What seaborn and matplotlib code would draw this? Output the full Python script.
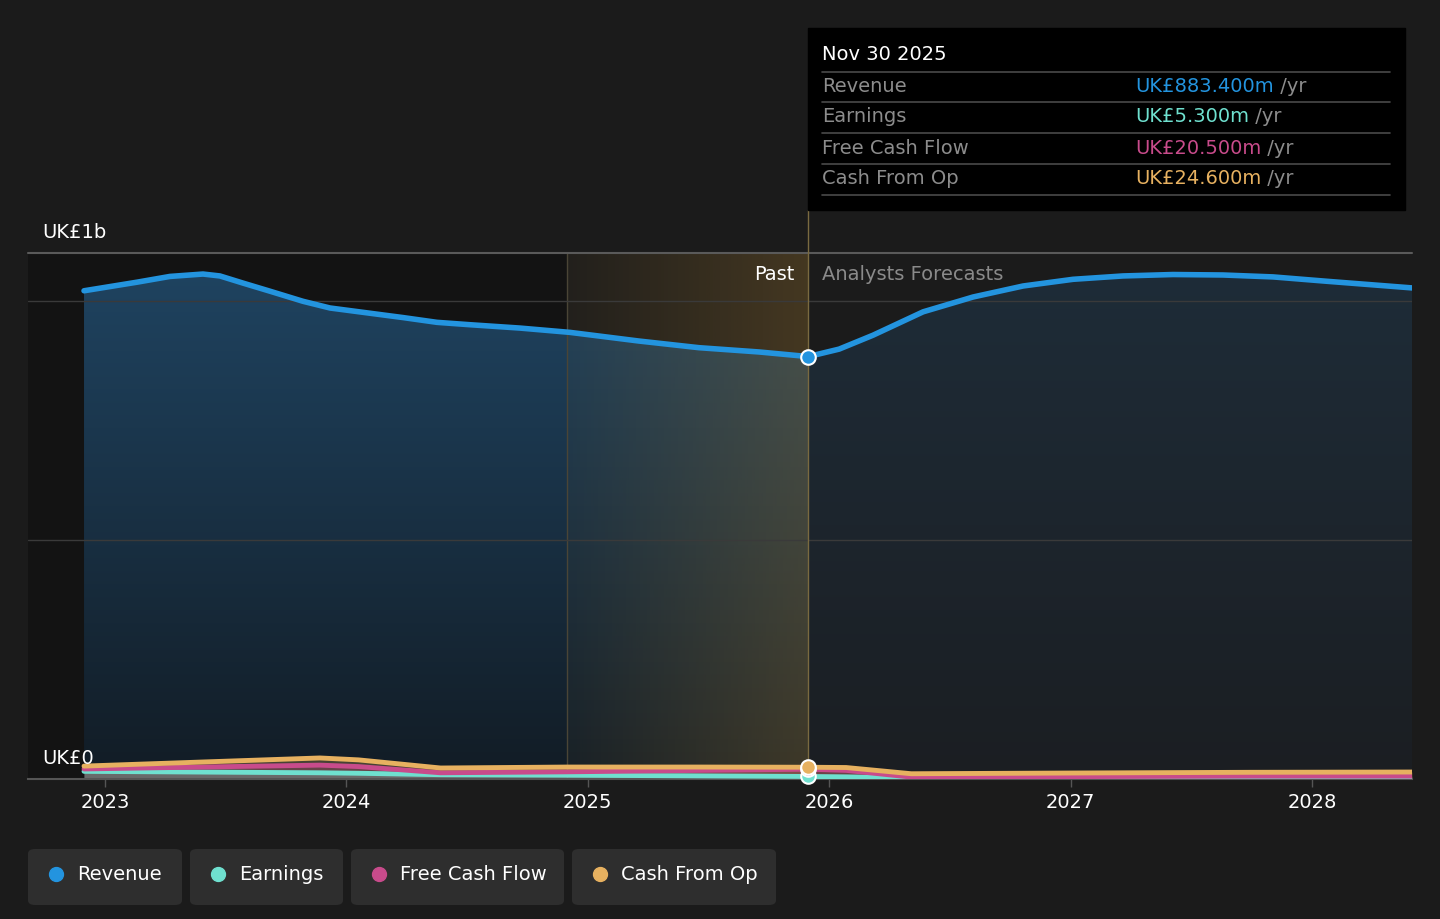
import numpy as np
import pandas as pd
import matplotlib.pyplot as plt
import seaborn as sns
from matplotlib.patches import FancyBboxPatch
from matplotlib.text import Annotation
from matplotlib.colors import LinearSegmentedColormap

# data (x = fractional year; revenue in UK£ b, others in UK£ m)
rev_x = [2022.913, 2023.133, 2023.269, 2023.406, 2023.476, 2023.572, 2023.684, 2023.820,
         2023.932, 2024.098, 2024.234, 2024.375, 2024.512, 2024.719, 2024.926, 2025.21,
         2025.46, 2025.71, 2025.913, 2026.041, 2026.181, 2026.389, 2026.596, 2026.803,
         2027.010, 2027.217, 2027.424, 2027.631, 2027.838, 2028.058, 2028.414]
rev_b = [1.021, 1.039, 1.051, 1.056, 1.052, 1.037, 1.020, 0.999,
         0.985, 0.974, 0.965, 0.955, 0.950, 0.943, 0.934, 0.916,
         0.902, 0.893, 0.8834, 0.899, 0.928, 0.977, 1.008, 1.031,
         1.045, 1.052, 1.055, 1.054, 1.050, 1.041, 1.027]

small_x = [2022.913, 2023.89, 2024.05, 2024.39, 2024.913, 2025.46, 2025.913, 2026.07, 2026.34,
           2027.0, 2027.74, 2028.414]
earn_m = [16, 13, 12, 9, 8, 6.5, 5.3, 4.5, 2, 2.5, 3.5, 4]
fcf_m = [21, 29, 26, 13, 15, 18, 20.5, 18, 4, 5, 6, 6]
cfo_m = [27, 44, 40, 23, 25, 25, 24.6, 24, 11, 12.5, 14, 14.6]

series = ['Revenue', 'Earnings', 'Free Cash Flow', 'Cash From Op']
colors = ['#2394df', '#6fe0cf', '#c84b8b', '#e7b160']
now_x = 2025.913
past_start = 2024.913
now_vals = [0.8834, 0.0053, 0.0205, 0.0246]
tip_vals = ['UK£883.400m', 'UK£5.300m', 'UK£20.500m', 'UK£24.600m']

BG = '#1b1b1b'
FS = 14
sns.set_theme(style='dark')
plt.rcParams['font.family'] = ['DejaVu Sans']

fig = plt.figure(figsize=(14.4, 9.19), dpi=100, facecolor=BG)
W, H = 1440, 919


def fx(x):
    return x / W


def fy(y):
    return 1 - y / H


ax = fig.add_axes([fx(28), fy(779), fx(1412) - fx(28), fy(253) - fy(779)])
ax.set_facecolor(BG)
x0, x1 = 2022.681, 2028.414
ax.set_xlim(x0, x1)
ax.set_ylim(0, 1.1)

# past background
ax.axvspan(x0, past_start, color='#131313', zorder=0, lw=0)

# revenue area with vertical gradient (past and forecast)
rx = np.array(rev_x)
rb = np.array(rev_b)
past = rx <= now_x + 1e-6
fut = rx >= now_x - 1e-6
vgrad = np.linspace(0, 1, 256).reshape(-1, 1)
cm_past = LinearSegmentedColormap.from_list('p', ['#1f4360', '#121c25'])
cm_fut = LinearSegmentedColormap.from_list('f', ['#1e2c38', '#1b1e22'])
for mask, cm in [(past, cm_past), (fut, cm_fut)]:
    poly = ax.fill_between(rx[mask], rb[mask], color='none', lw=0)
    im = ax.imshow(vgrad, cmap=cm, extent=[rx[mask][0], rx[mask][-1], 0, 1.06],
                   aspect='auto', zorder=1, origin='upper')
    im.set_clip_path(poly.get_paths()[0], transform=ax.transData)

# gold gradient band between last year and now
hgrad = np.linspace(0, 1, 256).reshape(1, -1)
gold = LinearSegmentedColormap.from_list('g', [(0.60, 0.45, 0.18, 0.06), (0.60, 0.45, 0.18, 0.33)])
ax.imshow(hgrad, cmap=gold, extent=[past_start, now_x, 0, 1.1], aspect='auto', zorder=1.2)
ax.axvline(past_start, color='#4a4536', lw=1, zorder=1.3)

ax.set_xlim(x0, x1)
ax.set_ylim(0, 1.1)

# gridlines
for g in [0.5, 1.0]:
    ax.axhline(g, color='#3a3a3a', lw=1, zorder=1.4)
ax.axhline(1.1, color='#5a5a5a', lw=1.5, zorder=1.4, clip_on=False)

rev_df = pd.DataFrame({'x': rev_x, 'v': rev_b})
sns.lineplot(data=rev_df, x='x', y='v', color=colors[0], lw=4, ax=ax, zorder=3)

sx = np.array(small_x)
for vals, c in [(cfo_m, colors[3]), (fcf_m, colors[2]), (earn_m, colors[1])]:
    ax.fill_between(sx, np.array(vals) / 1000, color=c, alpha=0.25, lw=0, zorder=2)
for vals, c in [(earn_m, colors[1]), (fcf_m, colors[2]), (cfo_m, colors[3])]:
    df = pd.DataFrame({'x': small_x, 'v': np.array(vals) / 1000})
    sns.lineplot(data=df, x='x', y='v', color=c, lw=3.5, ax=ax, zorder=3)

# markers at the latest reported point
for v, c in zip(now_vals, colors):
    ax.scatter([now_x], [v], s=110, color=c, edgecolor='white', linewidth=1.5, zorder=5, clip_on=False)

ax.axvline(now_x, color='#7a6a40', lw=1, zorder=1.4)

# axes styling
ax.set_xlabel('')
ax.set_ylabel('')
ax.set_yticks([])
years = [2023, 2024, 2025, 2026, 2027, 2028]
ax.set_xticks(years)
ax.set_xticklabels([str(y) for y in years], color='white', fontsize=FS)
ax.tick_params(axis='x', length=6, color='#555555', width=1, pad=4, bottom=True)
for s in ['top', 'left', 'right']:
    ax.spines[s].set_visible(False)
ax.spines['bottom'].set_color('#555555')
ax.spines['bottom'].set_linewidth(1.5)
ax.grid(False)

fig.text(fx(42), fy(232), 'UK£1b', color='white', fontsize=FS, va='center', ha='left')
fig.text(fx(42), fy(758), 'UK£0', color='white', fontsize=FS, va='center', ha='left')
fig.text(fx(794), fy(274), 'Past', color='white', fontsize=FS, va='center', ha='right')
fig.text(fx(822), fy(274), 'Analysts Forecasts', color='#8a8a8a', fontsize=FS, va='center', ha='left')

# tooltip
fig.patches.append(plt.Rectangle((fx(808), fy(210)), fx(1405) - fx(808), fy(28) - fy(210),
                                 transform=fig.transFigure, color='black', zorder=5))
fig.add_artist(plt.Line2D([fx(808), fx(808)], [fy(210), fy(253)], color='#7a6a40', lw=1))
fig.text(fx(822), fy(55), 'Nov 30 2025', color='white', fontsize=FS, va='center', zorder=6)
rows_y = [87, 117, 148, 178]
for ly in [72, 102, 133, 164, 195]:
    fig.add_artist(plt.Line2D([fx(822), fx(1390)], [fy(ly), fy(ly)], color='#4a4a4a', lw=1.2, zorder=6))
for name, val, c, ry in zip(series, tip_vals, colors, rows_y):
    fig.text(fx(822), fy(ry), name, color='#8c8c8c', fontsize=FS, va='center', zorder=6)
    t = fig.text(fx(1135), fy(ry), val, color=c, fontsize=FS, va='center', zorder=6)
    ann = Annotation(' /yr', xy=(1, 0.5), xycoords=t, va='center', ha='left',
                     color='#8c8c8c', fontsize=FS, annotation_clip=False)
    ann.set_zorder(6)
    fig.add_artist(ann)

# legend buttons
boxes = [(28, 182), (190, 343), (351, 564), (572, 776)]
for (bx0, bx1), name, c in zip(boxes, series, colors):
    fig.patches.append(FancyBboxPatch((fx(bx0), fy(905)), fx(bx1) - fx(bx0), fy(849) - fy(905),
                                      boxstyle='round,pad=0,rounding_size=0.005',
                                      transform=fig.transFigure, facecolor='#2e2e2e',
                                      edgecolor='none'))
    fig.add_artist(plt.Line2D([fx(bx0 + 28)], [fy(874)], marker='o', markersize=10,
                              color=c, lw=0))
    fig.text(fx(bx0 + 49), fy(874), name, color='white', fontsize=FS, va='center')

fig.savefig('out.png', dpi=100, facecolor=BG)
